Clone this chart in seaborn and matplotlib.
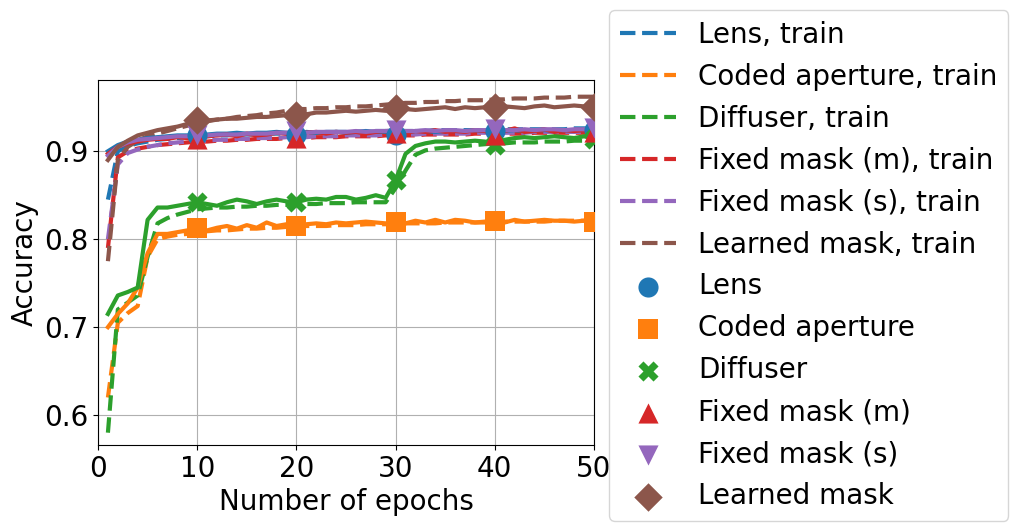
import numpy as np
import pandas as pd
import matplotlib
matplotlib.use("Agg")
import matplotlib.pyplot as plt
import seaborn as sns

epochs = list(range(1, 51))

names = ["Lens", "Coded aperture", "Diffuser", "Fixed mask (m)", "Fixed mask (s)", "Learned mask"]

lens_train = [0.845, 0.900, 0.906, 0.909, 0.911, 0.913, 0.914, 0.915, 0.916, 0.917,
              0.917, 0.918, 0.918, 0.919, 0.919, 0.919, 0.920, 0.920, 0.920, 0.921,
              0.921, 0.921, 0.921, 0.922, 0.922, 0.922, 0.922, 0.923, 0.923, 0.923,
              0.923, 0.923, 0.923, 0.924, 0.924, 0.924, 0.924, 0.924, 0.924, 0.925,
              0.925, 0.925, 0.925, 0.925, 0.925, 0.925, 0.925, 0.926, 0.926, 0.926]
lens_test = [0.900, 0.907, 0.911, 0.913, 0.915, 0.916, 0.917, 0.918, 0.918, 0.919,
             0.919, 0.920, 0.920, 0.921, 0.920, 0.921, 0.921, 0.922, 0.921, 0.918,
             0.922, 0.921, 0.922, 0.922, 0.921, 0.922, 0.923, 0.922, 0.922, 0.919,
             0.922, 0.923, 0.923, 0.922, 0.923, 0.923, 0.923, 0.924, 0.923, 0.923,
             0.923, 0.924, 0.923, 0.924, 0.924, 0.923, 0.924, 0.924, 0.924, 0.924]

coded_train = [0.620, 0.705, 0.716, 0.724, 0.780, 0.800, 0.803, 0.805, 0.806, 0.808,
               0.809, 0.810, 0.810, 0.811, 0.812, 0.812, 0.813, 0.813, 0.814, 0.814,
               0.815, 0.815, 0.815, 0.816, 0.816, 0.816, 0.817, 0.817, 0.817, 0.817,
               0.818, 0.818, 0.818, 0.818, 0.819, 0.819, 0.819, 0.819, 0.819, 0.820,
               0.820, 0.820, 0.820, 0.820, 0.820, 0.821, 0.821, 0.821, 0.821, 0.821]
coded_test = [0.700, 0.715, 0.727, 0.745, 0.784, 0.806, 0.806, 0.808, 0.810, 0.813,
              0.810, 0.813, 0.815, 0.812, 0.816, 0.813, 0.819, 0.815, 0.817, 0.815,
              0.817, 0.818, 0.817, 0.819, 0.818, 0.819, 0.820, 0.819, 0.818, 0.819,
              0.818, 0.821, 0.819, 0.822, 0.819, 0.822, 0.821, 0.819, 0.820, 0.821,
              0.819, 0.822, 0.820, 0.821, 0.822, 0.821, 0.821, 0.820, 0.821, 0.820]

diffuser_train = [0.580, 0.720, 0.728, 0.736, 0.780, 0.818, 0.824, 0.828, 0.831, 0.834,
                  0.835, 0.836, 0.836, 0.837, 0.837, 0.838, 0.838, 0.839, 0.839, 0.840,
                  0.840, 0.840, 0.841, 0.841, 0.841, 0.842, 0.842, 0.842, 0.842, 0.858,
                  0.878, 0.896, 0.901, 0.903, 0.904, 0.905, 0.906, 0.907, 0.908, 0.909,
                  0.909, 0.910, 0.910, 0.910, 0.911, 0.911, 0.911, 0.912, 0.912, 0.912]
diffuser_test = [0.715, 0.736, 0.740, 0.745, 0.822, 0.836, 0.836, 0.838, 0.840, 0.842,
                 0.840, 0.838, 0.842, 0.845, 0.843, 0.840, 0.843, 0.845, 0.843, 0.842,
                 0.845, 0.846, 0.845, 0.848, 0.848, 0.845, 0.847, 0.850, 0.847, 0.867,
                 0.897, 0.906, 0.909, 0.911, 0.911, 0.910, 0.911, 0.912, 0.911, 0.907,
                 0.913, 0.915, 0.916, 0.915, 0.916, 0.917, 0.916, 0.915, 0.917, 0.914]

fixm_train = [0.790, 0.893, 0.900, 0.903, 0.905, 0.907, 0.908, 0.909, 0.910, 0.911,
              0.911, 0.912, 0.912, 0.913, 0.913, 0.914, 0.914, 0.914, 0.915, 0.915,
              0.915, 0.916, 0.916, 0.916, 0.917, 0.917, 0.917, 0.917, 0.918, 0.918,
              0.918, 0.918, 0.919, 0.919, 0.919, 0.919, 0.919, 0.920, 0.920, 0.920,
              0.920, 0.920, 0.920, 0.921, 0.921, 0.921, 0.921, 0.921, 0.921, 0.921]
fixm_test = [0.897, 0.905, 0.909, 0.911, 0.913, 0.914, 0.914, 0.916, 0.915, 0.914,
             0.917, 0.918, 0.919, 0.917, 0.920, 0.918, 0.919, 0.921, 0.920, 0.915,
             0.921, 0.922, 0.920, 0.922, 0.921, 0.922, 0.920, 0.922, 0.923, 0.921,
             0.921, 0.923, 0.922, 0.924, 0.922, 0.923, 0.922, 0.924, 0.923, 0.918,
             0.923, 0.926, 0.922, 0.923, 0.925, 0.922, 0.924, 0.923, 0.924, 0.922]

fixs_train = [0.800, 0.885, 0.898, 0.902, 0.905, 0.907, 0.909, 0.910, 0.911, 0.912,
              0.912, 0.913, 0.913, 0.914, 0.914, 0.915, 0.915, 0.915, 0.916, 0.916,
              0.916, 0.917, 0.917, 0.917, 0.918, 0.918, 0.918, 0.918, 0.919, 0.919,
              0.919, 0.919, 0.920, 0.920, 0.920, 0.920, 0.920, 0.921, 0.921, 0.921,
              0.921, 0.921, 0.921, 0.922, 0.922, 0.922, 0.922, 0.922, 0.922, 0.922]
fixs_test = [0.895, 0.905, 0.910, 0.913, 0.914, 0.915, 0.916, 0.917, 0.917, 0.918,
             0.918, 0.919, 0.919, 0.919, 0.920, 0.920, 0.920, 0.921, 0.921, 0.923,
             0.921, 0.922, 0.922, 0.922, 0.922, 0.923, 0.922, 0.923, 0.923, 0.924,
             0.923, 0.923, 0.924, 0.923, 0.924, 0.924, 0.923, 0.924, 0.924, 0.925,
             0.924, 0.924, 0.925, 0.924, 0.925, 0.925, 0.924, 0.925, 0.925, 0.926]

learned_train = [0.775, 0.890, 0.905, 0.912, 0.917, 0.920, 0.923, 0.926, 0.929, 0.932,
                 0.934, 0.936, 0.937, 0.939, 0.940, 0.941, 0.943, 0.944, 0.946, 0.948,
                 0.948, 0.949, 0.949, 0.950, 0.950, 0.951, 0.951, 0.952, 0.953, 0.954,
                 0.955, 0.955, 0.956, 0.956, 0.957, 0.957, 0.958, 0.958, 0.958, 0.959,
                 0.959, 0.960, 0.960, 0.960, 0.961, 0.961, 0.961, 0.962, 0.962, 0.962]
learned_test = [0.890, 0.905, 0.912, 0.918, 0.921, 0.924, 0.926, 0.928, 0.931, 0.935,
                0.935, 0.936, 0.937, 0.937, 0.938, 0.939, 0.939, 0.940, 0.941, 0.941,
                0.942, 0.944, 0.944, 0.945, 0.946, 0.945, 0.946, 0.947, 0.946, 0.949,
                0.948, 0.947, 0.948, 0.949, 0.950, 0.948, 0.950, 0.949, 0.950, 0.950,
                0.951, 0.950, 0.949, 0.951, 0.952, 0.950, 0.951, 0.952, 0.951, 0.950]

train_series = [lens_train, coded_train, diffuser_train, fixm_train, fixs_train, learned_train]
test_series = [lens_test, coded_test, diffuser_test, fixm_test, fixs_test, learned_test]
markers = ["o", "s", "X", "^", "v", "D"]
colors = sns.color_palette("tab10", 6)
marker_epochs = [10, 20, 30, 40, 50]

fig = plt.figure(figsize=(10.16, 5.31), dpi=100)
ax = fig.add_axes([98 / 1016, (531 - 445) / 531, 496 / 1016, 365 / 531])

for name, vals, c in zip(names, train_series, colors):
    df = pd.DataFrame({"epoch": epochs, "acc": vals})
    sns.lineplot(data=df, x="epoch", y="acc", ax=ax, color=c, lw=3,
                 linestyle="--", label=f"{name}, train")

for name, vals, c, m in zip(names, test_series, colors, markers):
    df = pd.DataFrame({"epoch": epochs, "acc": vals})
    sns.lineplot(data=df, x="epoch", y="acc", ax=ax, color=c, lw=3,
                 linestyle="-", legend=False)
    dm = df[df["epoch"].isin(marker_epochs)]
    sns.scatterplot(data=dm, x="epoch", y="acc", ax=ax, color=c, marker=m,
                    s=210, linewidth=0, label=name, zorder=3)

handles, labels = ax.get_legend_handles_labels()
if ax.get_legend() is not None:
    ax.get_legend().remove()

ax.set_xlim(0, 50)
ax.set_ylim(0.566, 0.981)
ax.set_xticks([0, 10, 20, 30, 40, 50])
ax.set_yticks([0.6, 0.7, 0.8, 0.9])
ax.grid(True, color="#b0b0b0", lw=0.8)
ax.tick_params(labelsize=20)
ax.set_xlabel("Number of epochs", fontsize=20)
ax.set_ylabel("Accuracy", fontsize=20)

fig.legend(handles, labels, loc="upper left", fontsize=20,
           bbox_to_anchor=(609 / 1016, 1 - 10 / 531), bbox_transform=fig.transFigure,
           borderaxespad=0)

fig.savefig("out.png", dpi=100)
